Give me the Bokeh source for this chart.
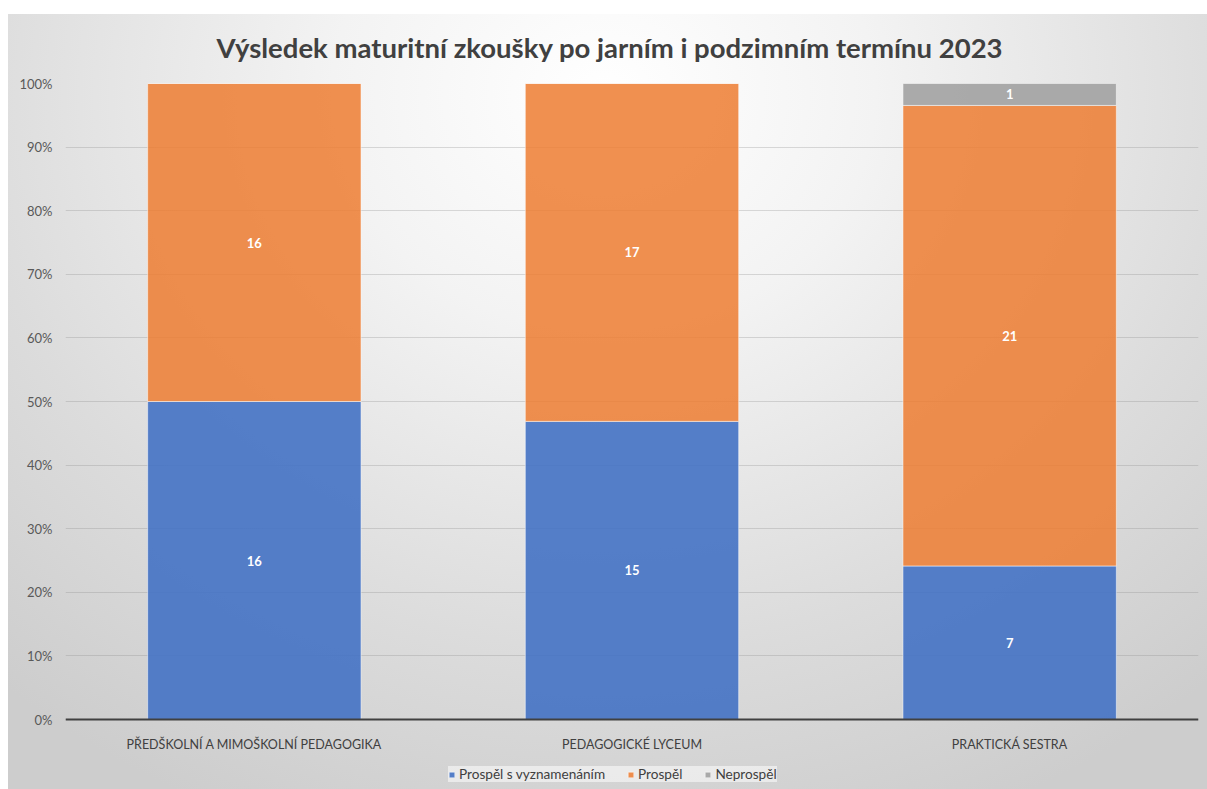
from bokeh.plotting import figure
from bokeh.models import (ColumnDataSource, FactorRange, LabelSet, Legend, Span,
                          FixedTicker, NumeralTickFormatter)
from bokeh.core.properties import value
from bokeh.embed import file_html
from bokeh.resources import INLINE

categories = ["PŘEDŠKOLNÍ A MIMOŠKOLNÍ PEDAGOGIKA", "PEDAGOGICKÉ LYCEUM", "PRAKTICKÁ SESTRA"]
series_names = ["Prospěl s vyznamenáním", "Prospěl", "Neprospěl"]
vyznamenani = [16, 15, 7]
prospel = [16, 17, 21]
neprospel = [0, 0, 1]
y_ticks = [0.0, 0.1, 0.2, 0.3, 0.4, 0.5, 0.6, 0.7, 0.8, 0.9, 1.0]
title_text = "Výsledek maturitní zkoušky po jarním i podzimním termínu 2023"

colors = ["#4472C4", "#ED7D31", "#A5A5A5"]
alphas = [0.9, 0.85, 0.95]
FONT = "Lato"

counts = [vyznamenani, prospel, neprospel]
totals = [sum(c[i] for c in counts) for i in range(len(categories))]
keys = ["s0", "s1", "s2"]
data = {"cat": categories}
for k, c in zip(keys, counts):
    data[k] = [v / t for v, t in zip(c, totals)]
source = ColumnDataSource(data)

# frame extends below 0% to host category labels and legend (636 px per 100 %)
y_start = -70 / 636
p = figure(x_range=FactorRange(*categories, range_padding=0), y_range=(y_start, 1),
           width=1207, height=789, output_backend="svg", toolbar_location=None,
           min_border_left=65, min_border_right=9, min_border_top=83, min_border_bottom=0)
p.border_fill_color = None
p.background_fill_color = None
p.outline_line_color = None
p.styles = {"background-image": "linear-gradient(#ffffff 14px, rgba(255,255,255,0) 14px), "
            "linear-gradient(90deg, #ffffff 8px, rgba(255,255,255,0) 8px), "
            "radial-gradient(ellipse 75% 100% at 50% 12%, #ffffff 0%, #f3f3f3 30%, #dcdcdc 70%, #cdcdcd 100%)"}

# grid
p.xgrid.grid_line_color = None
p.ygrid.grid_line_color = "#8a8a8a"
p.ygrid.grid_line_alpha = 0.3
p.ygrid.ticker = FixedTicker(ticks=y_ticks)

renderers = p.vbar_stack(keys, x="cat", width=0.565, source=source,
                         color=colors, fill_alpha=alphas, line_color="white",
                         line_alpha=0.5, line_width=1)

# baseline (category axis line)
p.add_layout(Span(location=0, dimension="width", line_color="#404040", line_width=2))

# data labels
lab_x, lab_y, lab_t = [], [], []
for ci, cat in enumerate(categories):
    base = 0.0
    for si in range(3):
        frac = counts[si][ci] / totals[ci]
        if counts[si][ci] > 0:
            lab_x.append(cat)
            lab_y.append(base + frac / 2)
            lab_t.append(str(counts[si][ci]))
        base += frac
lsrc = ColumnDataSource(dict(x=lab_x, y=lab_y, t=lab_t))
p.add_layout(LabelSet(x="x", y="y", text="t", source=lsrc, text_align="center",
                      text_baseline="middle", text_color="white", text_font_style="bold",
                      text_font_size="13px", text_font=value(FONT)))

# category labels
csrc = ColumnDataSource(dict(x=categories, y=[0] * len(categories), t=categories))
p.add_layout(LabelSet(x="x", y="y", text="t", source=csrc, y_offset=-25,
                      text_align="center", text_baseline="middle", text_color="#404040",
                      text_font_size="12.5px", text_font=value(FONT)))

# axes
p.xaxis.visible = False
p.yaxis.ticker = FixedTicker(ticks=y_ticks)
p.yaxis.formatter = NumeralTickFormatter(format="0%")
p.yaxis.axis_line_color = None
p.yaxis.major_tick_line_color = None
p.yaxis.major_tick_out = 0
p.yaxis.minor_tick_line_color = None
p.yaxis.major_label_text_font = FONT
p.yaxis.major_label_text_font_size = "13px"
p.yaxis.major_label_text_color = "#595959"
p.yaxis.major_label_standoff = 13

# title
p.title.text = title_text
p.title.align = "left"
p.title.offset = 151
p.title.standoff = 40
p.title.text_font = FONT
p.title.text_font_style = "bold"
p.title.text_font_size = "27.5px"
p.title.text_color = "#404040"

legend = Legend(items=[(n, [r]) for n, r in zip(series_names, renderers)],
                orientation="horizontal", location=(383, 7),
                background_fill_color="#f0f0f0", background_fill_alpha=0.8,
                border_line_color=None, glyph_width=7, glyph_height=7,
                label_standoff=4, spacing=22, padding=12, margin=0,
                label_height=6,
                label_text_font=FONT, label_text_font_size="13.6px",
                label_text_color="#404040")
p.add_layout(legend, "center")

open("out.html", "w").write(file_html(p, INLINE))
